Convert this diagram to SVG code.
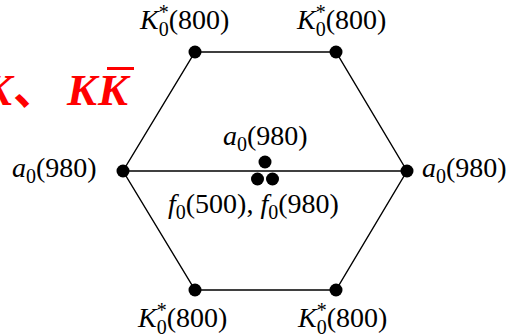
<svg xmlns="http://www.w3.org/2000/svg" width="508" height="336" viewBox="0 0 508 336">
<style>
.lbl{font-family:"Liberation Serif","Times New Roman",serif;font-size:28px;fill:#000}
.it{font-style:italic}
.sc{font-size:20px}
.edge{stroke:#000;stroke-width:1.4;fill:none}
.dot{fill:#000}
.red{font-family:"Liberation Serif","Noto Sans CJK SC",serif;font-weight:bold;font-style:italic;font-size:45px;fill:#ff0000}
</style>
<rect width="508" height="336" fill="#fff"/>
<g id="title">
<text class="red" x="-18" y="105">K</text>
<text x="13" y="105" style="font-family:'Noto Sans CJK SC',sans-serif;font-weight:bold;font-size:45px;fill:#ff0000">、</text>
<text class="red" x="67" y="105">K</text>
<text class="red" x="98" y="105">K</text>
<line x1="107" y1="68.5" x2="134" y2="68.5" stroke="#ff0000" stroke-width="3"/>
</g>
<g id="connectors">
<polygon class="edge" points="195,52 336,52 407,171 336,290 195,290 123,171"/>
<line class="edge" x1="123" y1="171" x2="407" y2="171"/>
</g>
<g id="node-tl"><circle class="dot" cx="195" cy="52" r="6.5"/>
<text class="lbl" x="140" y="29"><tspan class="it">K</tspan><tspan class="sc" dy="-10">*</tspan><tspan class="sc" dx="-10" dy="17">0</tspan><tspan dy="-7">(800)</tspan></text></g>
<g id="node-tr"><circle class="dot" cx="336" cy="52" r="6.5"/>
<text class="lbl" x="297" y="29"><tspan class="it">K</tspan><tspan class="sc" dy="-10">*</tspan><tspan class="sc" dx="-10" dy="17">0</tspan><tspan dy="-7">(800)</tspan></text></g>
<g id="node-bl"><circle class="dot" cx="195" cy="290" r="6.5"/>
<text class="lbl" x="138" y="327"><tspan class="it">K</tspan><tspan class="sc" dy="-10">*</tspan><tspan class="sc" dx="-10" dy="17">0</tspan><tspan dy="-7">(800)</tspan></text></g>
<g id="node-br"><circle class="dot" cx="336" cy="290" r="6.5"/>
<text class="lbl" x="298" y="327"><tspan class="it">K</tspan><tspan class="sc" dy="-10">*</tspan><tspan class="sc" dx="-10" dy="17">0</tspan><tspan dy="-7">(800)</tspan></text></g>
<g id="node-l"><circle class="dot" cx="123" cy="171" r="6.5"/>
<text class="lbl" x="12" y="177"><tspan class="it">a</tspan><tspan class="sc" dy="6">0</tspan><tspan dy="-6">(980)</tspan></text></g>
<g id="node-r"><circle class="dot" cx="407" cy="171" r="6.5"/>
<text class="lbl" x="422" y="177"><tspan class="it">a</tspan><tspan class="sc" dy="6">0</tspan><tspan dy="-6">(980)</tspan></text></g>
<g id="node-center">
<circle class="dot" cx="265" cy="162" r="6.5"/>
<circle class="dot" cx="257.5" cy="179" r="6.5"/>
<circle class="dot" cx="272.5" cy="179" r="6.5"/>
<text class="lbl" x="223" y="145"><tspan class="it">a</tspan><tspan class="sc" dy="6">0</tspan><tspan dy="-6">(980)</tspan></text>
<text class="lbl" x="168" y="213"><tspan class="it">f</tspan><tspan class="sc" dy="6">0</tspan><tspan dy="-6">(500), </tspan><tspan class="it">f</tspan><tspan class="sc" dy="6">0</tspan><tspan dy="-6">(980)</tspan></text>
</g>
</svg>
